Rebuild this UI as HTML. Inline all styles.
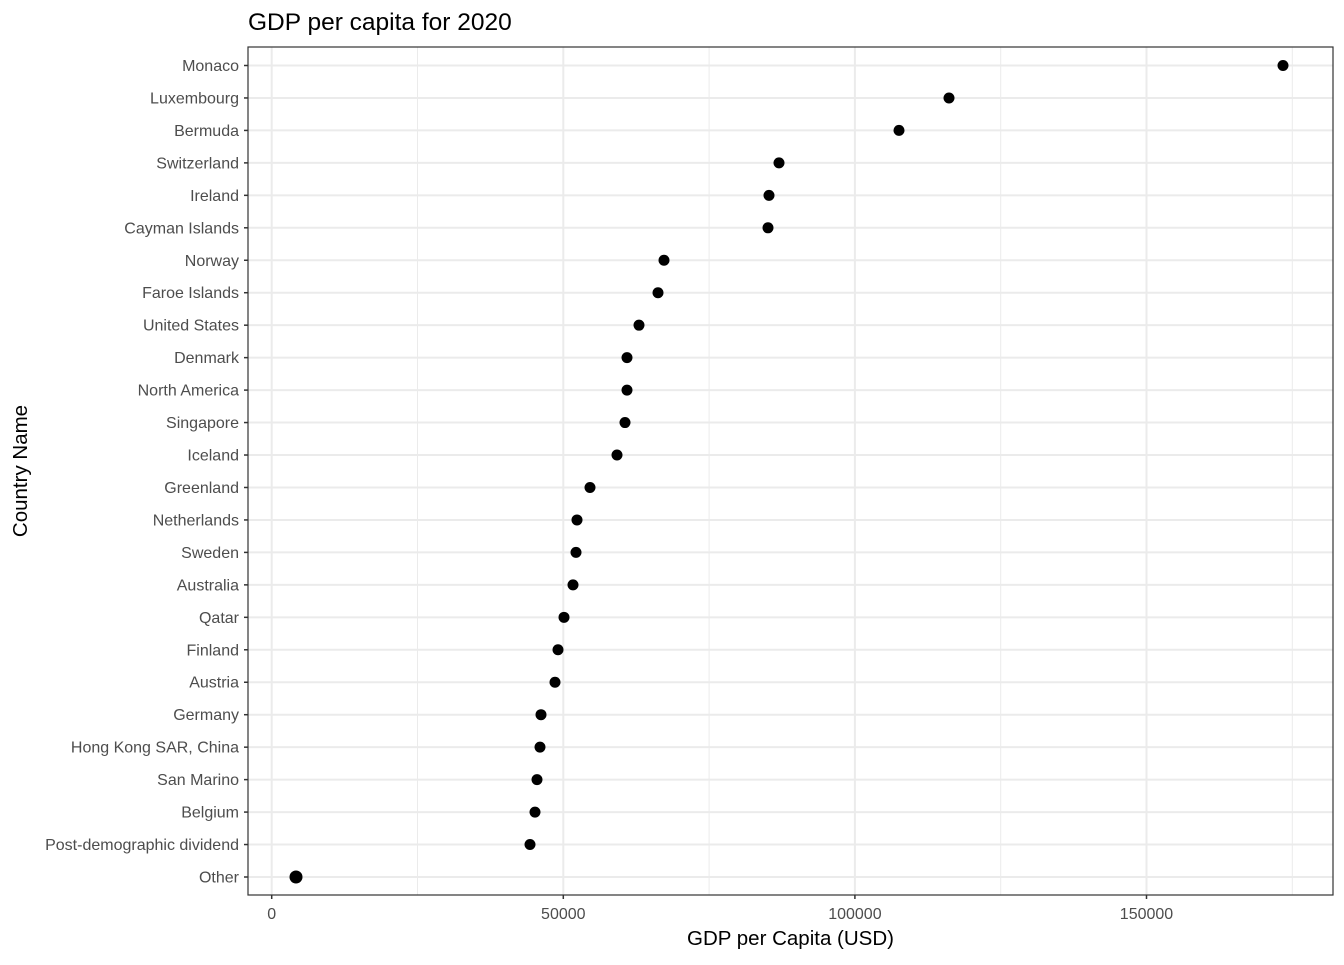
<!DOCTYPE html>
<html><head><meta charset="utf-8"><style>
body{margin:0;background:#fff;}
svg text{font-family:"Liberation Sans",Arial,sans-serif;}
.l{font-size:16px;fill:#4d4d4d;text-anchor:end;}
.t{font-size:16px;fill:#4d4d4d;text-anchor:middle;}
</style></head><body>
<svg width="1344" height="960" xmlns="http://www.w3.org/2000/svg">
<rect width="1344" height="960" fill="#fff"/>
<g stroke="#ebebeb" stroke-width="1">
<line x1="417.5" x2="417.5" y1="47" y2="895"/>
<line x1="709.1" x2="709.1" y1="47" y2="895"/>
<line x1="1000.7" x2="1000.7" y1="47" y2="895"/>
<line x1="1292.3" x2="1292.3" y1="47" y2="895"/>
</g>
<g stroke="#ebebeb" stroke-width="2">
<line x1="271.7" x2="271.7" y1="47" y2="895"/>
<line x1="563.3" x2="563.3" y1="47" y2="895"/>
<line x1="854.9" x2="854.9" y1="47" y2="895"/>
<line x1="1146.5" x2="1146.5" y1="47" y2="895"/>
<line x1="248" x2="1333" y1="65.5" y2="65.5"/>
<line x1="248" x2="1333" y1="97.96" y2="97.96"/>
<line x1="248" x2="1333" y1="130.42" y2="130.42"/>
<line x1="248" x2="1333" y1="162.88" y2="162.88"/>
<line x1="248" x2="1333" y1="195.34" y2="195.34"/>
<line x1="248" x2="1333" y1="227.8" y2="227.8"/>
<line x1="248" x2="1333" y1="260.26" y2="260.26"/>
<line x1="248" x2="1333" y1="292.72" y2="292.72"/>
<line x1="248" x2="1333" y1="325.18" y2="325.18"/>
<line x1="248" x2="1333" y1="357.64" y2="357.64"/>
<line x1="248" x2="1333" y1="390.1" y2="390.1"/>
<line x1="248" x2="1333" y1="422.56" y2="422.56"/>
<line x1="248" x2="1333" y1="455.02" y2="455.02"/>
<line x1="248" x2="1333" y1="487.48" y2="487.48"/>
<line x1="248" x2="1333" y1="519.94" y2="519.94"/>
<line x1="248" x2="1333" y1="552.4" y2="552.4"/>
<line x1="248" x2="1333" y1="584.86" y2="584.86"/>
<line x1="248" x2="1333" y1="617.32" y2="617.32"/>
<line x1="248" x2="1333" y1="649.78" y2="649.78"/>
<line x1="248" x2="1333" y1="682.24" y2="682.24"/>
<line x1="248" x2="1333" y1="714.7" y2="714.7"/>
<line x1="248" x2="1333" y1="747.16" y2="747.16"/>
<line x1="248" x2="1333" y1="779.62" y2="779.62"/>
<line x1="248" x2="1333" y1="812.08" y2="812.08"/>
<line x1="248" x2="1333" y1="844.54" y2="844.54"/>
<line x1="248" x2="1333" y1="877" y2="877"/>
</g>
<g fill="#000">
<circle cx="1283" cy="65.5" r="5.5"/>
<circle cx="949" cy="97.96" r="5.5"/>
<circle cx="899" cy="130.42" r="5.5"/>
<circle cx="779" cy="162.88" r="5.5"/>
<circle cx="769" cy="195.34" r="5.5"/>
<circle cx="768" cy="227.8" r="5.5"/>
<circle cx="664" cy="260.26" r="5.5"/>
<circle cx="658" cy="292.72" r="5.5"/>
<circle cx="639" cy="325.18" r="5.5"/>
<circle cx="627" cy="357.64" r="5.5"/>
<circle cx="627" cy="390.1" r="5.5"/>
<circle cx="625" cy="422.56" r="5.5"/>
<circle cx="617" cy="455.02" r="5.5"/>
<circle cx="590" cy="487.48" r="5.5"/>
<circle cx="577" cy="519.94" r="5.5"/>
<circle cx="576" cy="552.4" r="5.5"/>
<circle cx="573" cy="584.86" r="5.5"/>
<circle cx="564" cy="617.32" r="5.5"/>
<circle cx="558" cy="649.78" r="5.5"/>
<circle cx="555" cy="682.24" r="5.5"/>
<circle cx="541" cy="714.7" r="5.5"/>
<circle cx="540" cy="747.16" r="5.5"/>
<circle cx="537" cy="779.62" r="5.5"/>
<circle cx="535" cy="812.08" r="5.5"/>
<circle cx="530" cy="844.54" r="5.5"/>
<circle cx="296" cy="877" r="6.5"/>
</g>
<g stroke="#333" stroke-width="1.5">
<line x1="244" x2="248" y1="65.5" y2="65.5"/>
<line x1="244" x2="248" y1="97.96" y2="97.96"/>
<line x1="244" x2="248" y1="130.42" y2="130.42"/>
<line x1="244" x2="248" y1="162.88" y2="162.88"/>
<line x1="244" x2="248" y1="195.34" y2="195.34"/>
<line x1="244" x2="248" y1="227.8" y2="227.8"/>
<line x1="244" x2="248" y1="260.26" y2="260.26"/>
<line x1="244" x2="248" y1="292.72" y2="292.72"/>
<line x1="244" x2="248" y1="325.18" y2="325.18"/>
<line x1="244" x2="248" y1="357.64" y2="357.64"/>
<line x1="244" x2="248" y1="390.1" y2="390.1"/>
<line x1="244" x2="248" y1="422.56" y2="422.56"/>
<line x1="244" x2="248" y1="455.02" y2="455.02"/>
<line x1="244" x2="248" y1="487.48" y2="487.48"/>
<line x1="244" x2="248" y1="519.94" y2="519.94"/>
<line x1="244" x2="248" y1="552.4" y2="552.4"/>
<line x1="244" x2="248" y1="584.86" y2="584.86"/>
<line x1="244" x2="248" y1="617.32" y2="617.32"/>
<line x1="244" x2="248" y1="649.78" y2="649.78"/>
<line x1="244" x2="248" y1="682.24" y2="682.24"/>
<line x1="244" x2="248" y1="714.7" y2="714.7"/>
<line x1="244" x2="248" y1="747.16" y2="747.16"/>
<line x1="244" x2="248" y1="779.62" y2="779.62"/>
<line x1="244" x2="248" y1="812.08" y2="812.08"/>
<line x1="244" x2="248" y1="844.54" y2="844.54"/>
<line x1="244" x2="248" y1="877" y2="877"/>
<line x1="271.7" x2="271.7" y1="895" y2="899"/>
<line x1="563.3" x2="563.3" y1="895" y2="899"/>
<line x1="854.9" x2="854.9" y1="895" y2="899"/>
<line x1="1146.5" x2="1146.5" y1="895" y2="899"/>
</g>
<text class="l" x="239" y="71">Monaco</text>
<text class="l" x="239" y="103.5">Luxembourg</text>
<text class="l" x="239" y="135.9">Bermuda</text>
<text class="l" x="239" y="168.4">Switzerland</text>
<text class="l" x="239" y="200.8">Ireland</text>
<text class="l" x="239" y="233.3">Cayman Islands</text>
<text class="l" x="239" y="265.8">Norway</text>
<text class="l" x="239" y="298.2">Faroe Islands</text>
<text class="l" x="239" y="330.7">United States</text>
<text class="l" x="239" y="363.1">Denmark</text>
<text class="l" x="239" y="395.6">North America</text>
<text class="l" x="239" y="428.1">Singapore</text>
<text class="l" x="239" y="460.5">Iceland</text>
<text class="l" x="239" y="493">Greenland</text>
<text class="l" x="239" y="525.4">Netherlands</text>
<text class="l" x="239" y="557.9">Sweden</text>
<text class="l" x="239" y="590.4">Australia</text>
<text class="l" x="239" y="622.8">Qatar</text>
<text class="l" x="239" y="655.3">Finland</text>
<text class="l" x="239" y="687.7">Austria</text>
<text class="l" x="239" y="720.2">Germany</text>
<text class="l" x="239" y="752.7">Hong Kong SAR, China</text>
<text class="l" x="239" y="785.1">San Marino</text>
<text class="l" x="239" y="817.6">Belgium</text>
<text class="l" x="239" y="850">Post-demographic dividend</text>
<text class="l" x="239" y="882.5">Other</text>
<text class="t" x="271.7" y="919">0</text>
<text class="t" x="563.3" y="919">50000</text>
<text class="t" x="854.9" y="919">100000</text>
<text class="t" x="1146.5" y="919">150000</text>
<rect x="248" y="47" width="1085" height="848" fill="none" stroke="#333" stroke-width="1.2"/>
<text x="248" y="30" font-size="24.5" fill="#000">GDP per capita for 2020</text>
<text x="790.5" y="945" font-size="20.5" fill="#000" text-anchor="middle">GDP per Capita (USD)</text>
<text transform="translate(27,471) rotate(-90)" font-size="20.5" fill="#000" text-anchor="middle">Country Name</text>
</svg>
</body></html>
